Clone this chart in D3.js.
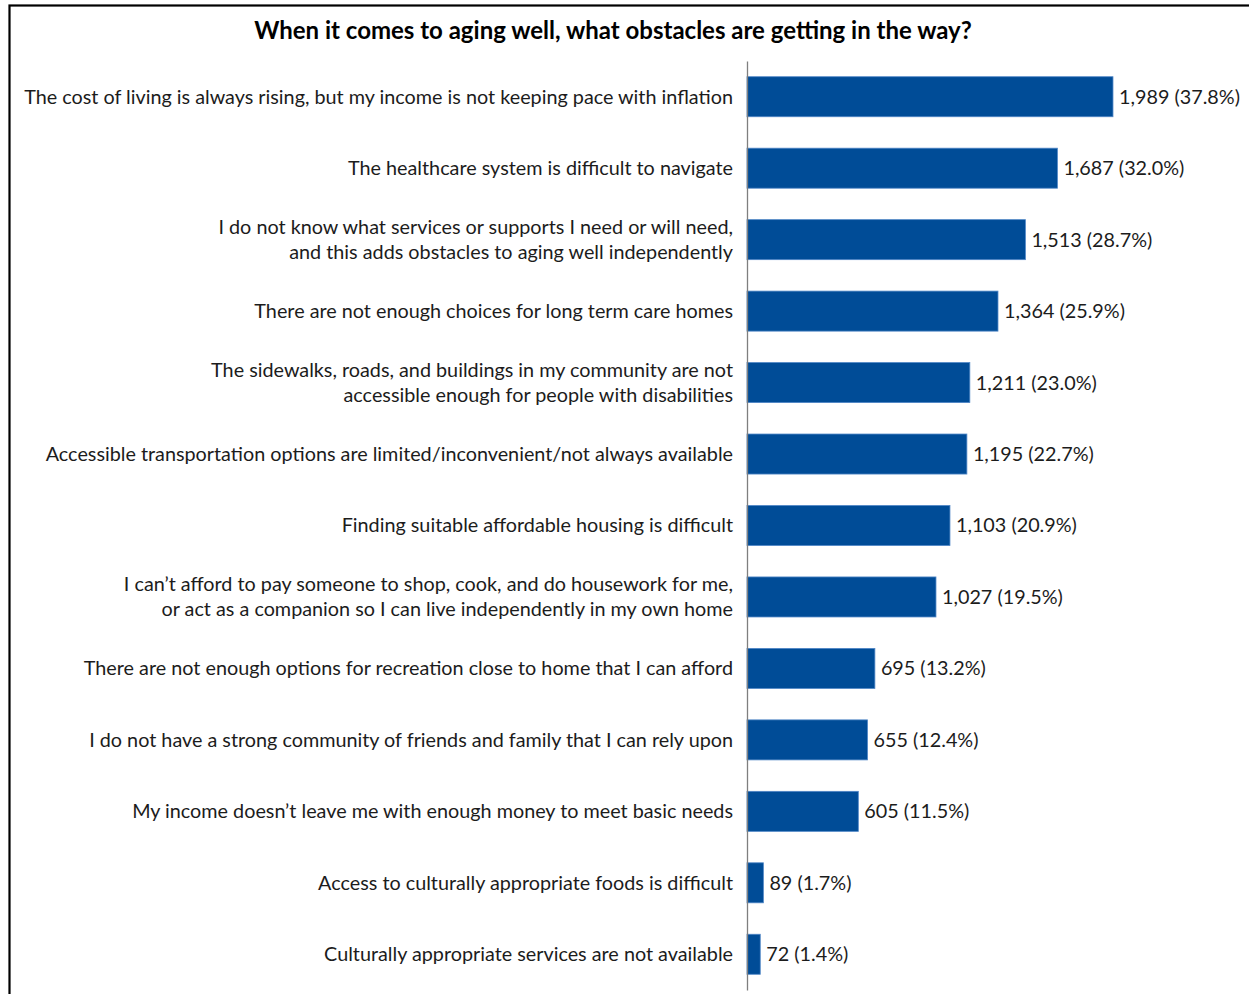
<!DOCTYPE html>
<html>
<head>
<meta charset="utf-8">
<script src="https://cdn.jsdelivr.net/npm/d3@7"></script>
<style>
  html, body { margin: 0; padding: 0; background: #fff; }
  svg { display: block; }
  text { font-family: Lato, "Open Sans", sans-serif; fill: #1c1c1c; }
</style>
</head>
<body>
<svg id="chart" width="1249" height="994"></svg>
<script>
// Survey responses: obstacles to aging well
const titleText = "When it comes to aging well, what obstacles are getting in the way?";

const categories = [
  ["The cost of living is always rising, but my income is not keeping pace with inflation"],
  ["The healthcare system is difficult to navigate"],
  ["I do not know what services or supports I need or will need,", "and this adds obstacles to aging well independently"],
  ["There are not enough choices for long term care homes"],
  ["The sidewalks, roads, and buildings in my community are not", "accessible enough for people with disabilities"],
  ["Accessible transportation options are limited/inconvenient/not always available"],
  ["Finding suitable affordable housing is difficult"],
  ["I can\u2019t afford to pay someone to shop, cook, and do housework for me,", "or act as a companion so I can live independently in my own home"],
  ["There are not enough options for recreation close to home that I can afford"],
  ["I do not have a strong community of friends and family that I can rely upon"],
  ["My income doesn\u2019t leave me with enough money to meet basic needs"],
  ["Access to culturally appropriate foods is difficult"],
  ["Culturally appropriate services are not available"]
];

const counts = [1989, 1687, 1513, 1364, 1211, 1195, 1103, 1027, 695, 655, 605, 89, 72];
const percents = [37.8, 32.0, 28.7, 25.9, 23.0, 22.7, 20.9, 19.5, 13.2, 12.4, 11.5, 1.7, 1.4];

const rows = counts.map((c, i) => ({ id: i, lines: categories[i], count: c, pct: percents[i] }));

const svg = d3.select("#chart");

// frame (only top and left edges fall inside the view)
svg.append("rect")
  .attr("x", 9.5).attr("y", 5.5)
  .attr("width", 1260).attr("height", 1010)
  .attr("fill", "none").attr("stroke", "#000").attr("stroke-width", 2.2);

svg.append("text")
  .attr("x", 613).attr("y", 39)
  .attr("text-anchor", "middle")
  .style("font-weight", "bold")
  .style("font-size", "24px")
  .style("fill", "#000")
  .text(titleText);

const x = d3.scaleLinear().domain([0, 2500]).range([747, 1207]);
const y = d3.scaleBand().domain(rows.map(d => d.id)).range([61, 990]).paddingInner(0.44).paddingOuter(0.22);

const fmt = d3.format(",");

svg.append("g").selectAll("rect")
  .data(rows)
  .join("rect")
  .attr("x", x(0))
  .attr("y", d => y(d.id))
  .attr("width", d => x(d.count) - x(0))
  .attr("height", y.bandwidth())
  .attr("fill", "#004c97")
  .attr("stroke", "#4f86c6")
  .attr("stroke-width", 0.8);

// category axis
const axis = svg.append("g")
  .attr("transform", `translate(${x(0)},0)`)
  .call(d3.axisLeft(y).tickSize(0).tickFormat(""));
axis.select(".domain").attr("stroke", "#7f7f7f").attr("stroke-width", 1.3);

const labels = svg.append("g").selectAll("text")
  .data(rows)
  .join("text")
  .attr("text-anchor", "end")
  .style("font-size", "19.8px")
  .attr("x", 733)
  .attr("y", d => y(d.id) + y.bandwidth() / 2);

labels.each(function(d) {
  const t = d3.select(this);
  const n = d.lines.length;
  d.lines.forEach((ln, k) => {
    t.append("tspan")
      .attr("x", 733)
      .attr("y", y(d.id) + y.bandwidth() / 2 + (k - (n - 1) / 2) * 25)
      .attr("dy", "0.35em")
      .text(ln);
  });
});

svg.append("g").selectAll("text")
  .data(rows)
  .join("text")
  .attr("x", d => x(d.count) + 6)
  .attr("y", d => y(d.id) + y.bandwidth() / 2)
  .attr("dy", "0.35em")
  .style("font-size", "19.8px")
  .text(d => `${fmt(d.count)} (${d.pct.toFixed(1)}%)`);
</script>
</body>
</html>
